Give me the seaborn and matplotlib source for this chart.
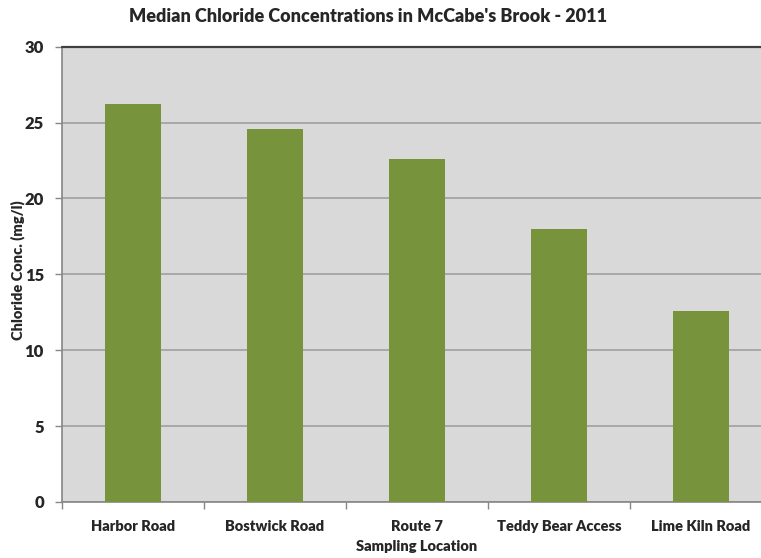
import matplotlib
matplotlib.use("Agg")
import matplotlib.pyplot as plt
import seaborn as sns
import pandas as pd
from matplotlib.ticker import FixedLocator

locations = ["Harbor Road", "Bostwick Road", "Route 7", "Teddy Bear Access", "Lime Kiln Road"]
chloride = [26.2, 24.6, 22.6, 18.0, 12.6]
y_ticks = [0, 5, 10, 15, 20, 25, 30]

df = pd.DataFrame({"Sampling Location": locations, "Chloride": chloride})

sns.set_theme(style="white")
plt.rcParams["font.family"] = ["Lato", "DejaVu Sans"]
plt.rcParams["font.weight"] = "heavy"
W = "heavy"

fig = plt.figure(figsize=(7.61, 5.58), dpi=100)
ax = fig.add_axes([62 / 761, 56 / 558, 710 / 761, 455.3 / 558])
ax.set_facecolor("#d9d9d9")

sns.barplot(data=df, x="Sampling Location", y="Chloride", color="#77933c",
            saturation=1, width=0.4, ax=ax, zorder=3, linewidth=0)

ax.set_xlim(-0.5, len(locations) - 0.5)
ax.set_ylim(0, 30)
ax.set_yticks(y_ticks)
ax.yaxis.grid(True, color="#a0a0a0", linewidth=1.2, zorder=0)
ax.set_axisbelow(True)

for side in ["top", "right"]:
    ax.spines[side].set_visible(False)
ax.spines["left"].set_color("#868686")
ax.spines["bottom"].set_color("#868686")
ax.spines["left"].set_linewidth(1.2)
ax.spines["bottom"].set_linewidth(1.2)
# darker rule along the top of the plot area
ax.axhline(30, color="#404040", linewidth=1.6, zorder=4, clip_on=False)

ax.tick_params(axis="y", direction="out", length=5, width=1, color="#868686",
               pad=8, labelsize=12, left=True)
ax.tick_params(axis="x", which="major", length=0, pad=13, labelsize=10.5)
ax.xaxis.set_minor_locator(FixedLocator([i + 0.5 for i in range(-1, len(locations))]))
ax.tick_params(axis="x", which="minor", direction="out", length=5, width=1,
               color="#868686", bottom=True)

for lbl in ax.get_xticklabels() + ax.get_yticklabels():
    lbl.set_fontweight(W)

ax.set_xlabel("Sampling Location", fontsize=10.5, fontweight=W, labelpad=5)
ax.set_ylabel("")
fig.text(18 / 761, 1 - 270 / 558, "Chloride Conc. (mg/l)", rotation=90,
         ha="center", va="center", fontsize=10.5, fontweight=W)
fig.text(368 / 761, 1 - 22 / 558, "Median Chloride Concentrations in McCabe's Brook - 2011",
         ha="center", va="baseline", fontsize=13, fontweight=W)

fig.savefig("out.png", dpi=100)
